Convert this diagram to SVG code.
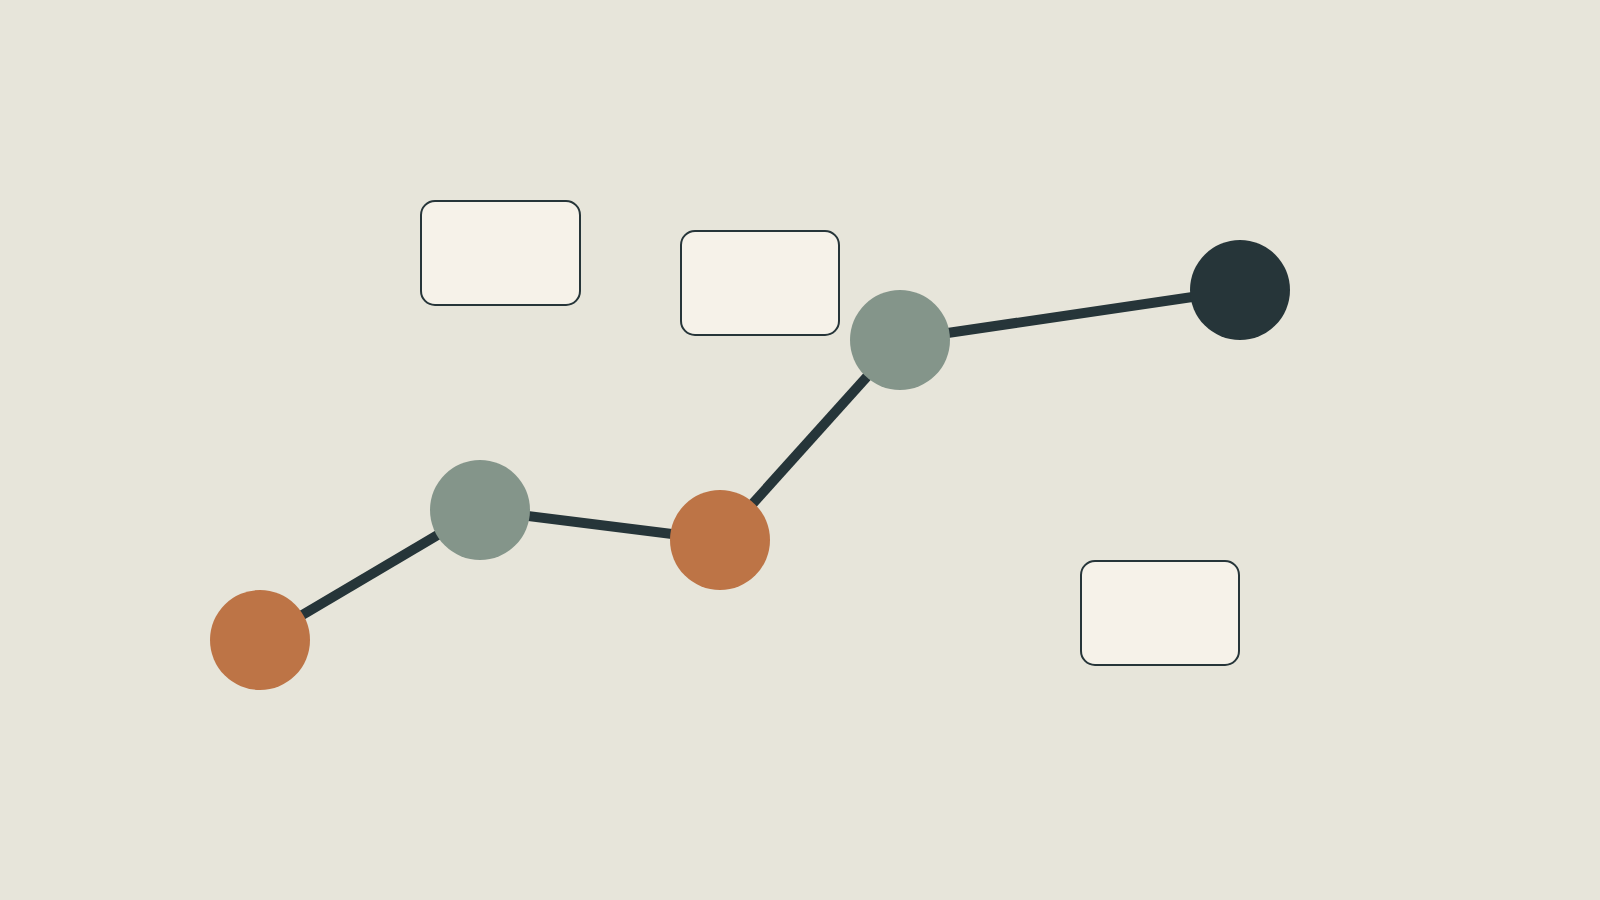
<svg xmlns="http://www.w3.org/2000/svg" width="1600" height="900" viewBox="0 0 1600 900">
<style>
.card{fill:#F6F2E9;stroke:#263539;stroke-width:2}
.edge{stroke:#263539;stroke-width:10;fill:none}
.orange{fill:#BD7446}
.sage{fill:#84958A}
.dark{fill:#263539}
</style>
<rect width="1600" height="900" fill="#E7E5DA"/>
<g id="connectors">
<line class="edge" x1="260" y1="640" x2="480" y2="510"/>
<line class="edge" x1="480" y1="510" x2="720" y2="540"/>
<line class="edge" x1="720" y1="540" x2="900" y2="340"/>
<line class="edge" x1="900" y1="340" x2="1240" y2="290"/>
</g>
<g id="card1"><rect class="card" x="421" y="201" width="159" height="104" rx="14"/></g>
<g id="card2"><rect class="card" x="681" y="231" width="158" height="104" rx="14"/></g>
<g id="card3"><rect class="card" x="1081" y="561" width="158" height="104" rx="14"/></g>
<g id="node1"><circle class="orange" cx="260" cy="640" r="50"/></g>
<g id="node2"><circle class="sage" cx="480" cy="510" r="50"/></g>
<g id="node3"><circle class="orange" cx="720" cy="540" r="50"/></g>
<g id="node4"><circle class="sage" cx="900" cy="340" r="50"/></g>
<g id="node5"><circle class="dark" cx="1240" cy="290" r="50"/></g>
</svg>
